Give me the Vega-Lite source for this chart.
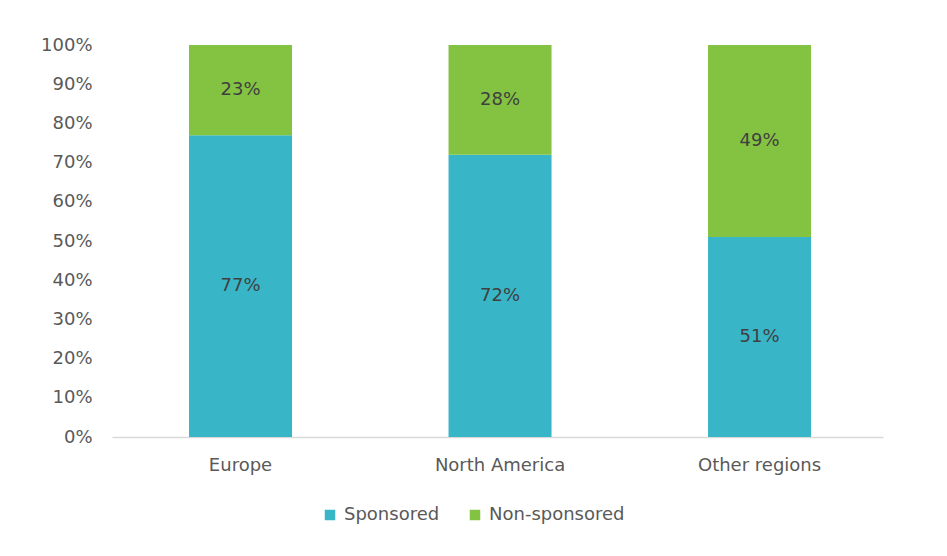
{
  "$schema": "https://vega.github.io/schema/vega-lite/v6.json",
  "autosize": "none",
  "width": 771,
  "height": 392,
  "padding": {"left": 112, "top": 45, "right": 64, "bottom": 119},
  "background": "white",
  "config": {"view": {"stroke": null}, "font": "DejaVu Sans"},
  "data": {"values": [
    {"region": "Europe", "series": "Sponsored", "value": 0.77},
    {"region": "Europe", "series": "Non-sponsored", "value": 0.23},
    {"region": "North America", "series": "Sponsored", "value": 0.72},
    {"region": "North America", "series": "Non-sponsored", "value": 0.28},
    {"region": "Other regions", "series": "Sponsored", "value": 0.51},
    {"region": "Other regions", "series": "Non-sponsored", "value": 0.49}
  ]},
  "transform": [
    {"stack": "value", "groupby": ["region"], "sort": [{"field": "series", "order": "descending"}], "as": ["y0", "y1"]},
    {"calculate": "(datum.y0 + datum.y1) / 2", "as": "ymid"}
  ],
  "encoding": {
    "x": {"field": "region", "type": "nominal", "sort": ["Europe", "North America", "Other regions"],
      "scale": {"paddingInner": 0.603, "paddingOuter": 0.287, "align": 0.517},
      "axis": {"title": null, "labelAngle": 0, "labelFontSize": 18, "labelColor": "#595959", "labelPadding": 19, "ticks": false, "domainColor": "#D9D9D9", "domainWidth": 1.5}}
  },
  "layer": [
    {
      "mark": {"type": "bar"},
      "encoding": {
        "y": {"field": "y0", "type": "quantitative", "scale": {"domain": [0, 1]},
          "axis": {"title": null, "format": ".0%", "values": [0, 0.1, 0.2, 0.3, 0.4, 0.5, 0.6, 0.7, 0.8, 0.9, 1], "labelOverlap": false, "grid": false, "domain": false, "ticks": false, "labelFontSize": 18, "labelColor": "#595959", "labelPadding": 20}},
        "y2": {"field": "y1"},
        "color": {"field": "series", "type": "nominal",
          "scale": {"domain": ["Sponsored", "Non-sponsored"], "range": ["#38B6C8", "#84C341"]},
          "legend": {"title": null, "orient": "none", "direction": "horizontal", "legendX": 209, "legendY": 461, "symbolType": "square", "symbolSize": 110, "symbolStrokeWidth": 0, "labelFontSize": 18, "labelColor": "#595959", "columnPadding": 26, "labelOffset": 5}}
      }
    },
    {
      "mark": {"type": "text", "fontSize": 18, "color": "#404040"},
      "encoding": {
        "y": {"field": "ymid", "type": "quantitative", "scale": {"domain": [0, 1]},
          "axis": {"title": null, "format": ".0%", "values": [0, 0.1, 0.2, 0.3, 0.4, 0.5, 0.6, 0.7, 0.8, 0.9, 1], "labelOverlap": false, "grid": false, "domain": false, "ticks": false, "labelFontSize": 18, "labelColor": "#595959", "labelPadding": 20}},
        "text": {"field": "value", "type": "quantitative", "format": ".0%"}
      }
    }
  ]
}
